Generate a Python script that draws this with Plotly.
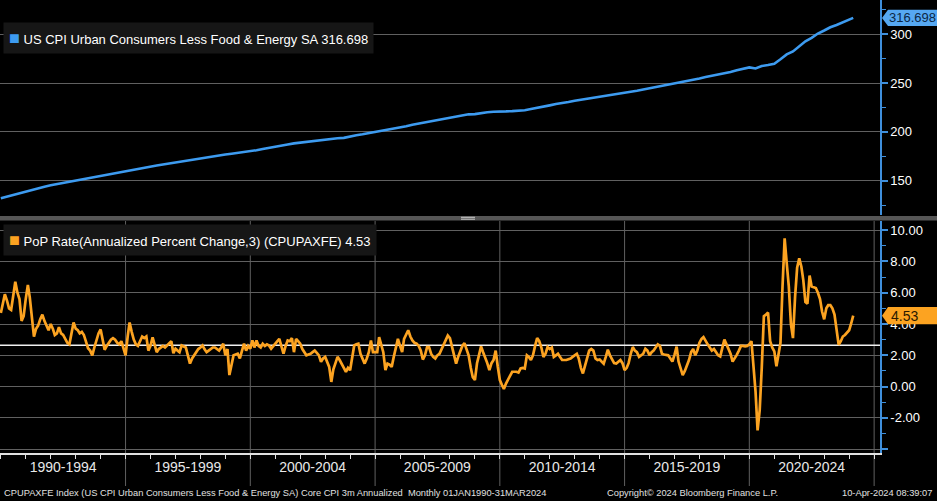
import numpy as np
import pandas as pd
import plotly.graph_objects as go
from plotly.subplots import make_subplots

# ---------------- data ----------------
# Core CPI index (SA), quarterly (Jan/Apr/Jul/Oct) 1990 .. Jan 2024, plus Mar 2024
cpi_values = [
    132.1, 133.8, 135.6, 137.6,
    139.5, 141.0, 142.3, 143.9,
    145.4, 146.6, 147.7, 149.0,
    150.7, 151.9, 152.9, 154.1,
    155.2, 156.3, 157.4, 158.6,
    159.7, 161.1, 162.2, 163.4,
    164.5, 165.6, 166.6, 167.7,
    168.7, 169.6, 170.6, 171.6,
    172.9, 173.8, 174.9, 175.9,
    176.9, 177.7, 178.4, 179.2,
    180.0, 181.3, 182.5, 183.5,
    184.6, 185.9, 187.1, 188.3,
    189.1, 189.9, 190.8, 191.6,
    192.4, 193.0, 193.5, 193.9,
    195.6, 196.6, 197.6, 198.7,
    199.9, 200.8, 201.9, 202.9,
    204.2, 205.8, 207.4, 208.6,
    209.9, 211.3, 212.5, 213.6,
    214.6, 215.8, 217.3, 218.0,
    218.2, 219.3, 220.2, 220.7,
    220.6, 221.0, 221.3, 221.5,
    222.2, 223.4, 224.9, 226.1,
    227.2, 228.6, 229.3, 230.6,
    231.9, 232.9, 233.7, 234.9,
    235.7, 236.9, 237.7, 238.6,
    239.5, 241.0, 242.2, 243.4,
    244.6, 246.1, 247.4, 248.6,
    250.1, 250.9, 251.9, 253.2,
    254.6, 256.2, 257.4, 258.6,
    260.0, 261.4, 263.1, 264.5,
    266.0, 265.0, 267.4, 268.4,
    269.8, 274.3, 279.3, 282.4,
    287.9, 292.7, 296.3, 300.7,
    303.8, 307.1, 309.4, 312.0,
    314.2, 316.698,
]
cpi_dates = list(pd.date_range("1990-01-01", "2024-01-01", freq="QS")) + [pd.Timestamp("2024-03-01")]

# 3m annualized % change, monthly Jan 1990 .. Mar 2024
rate_values = [
    4.7, 5.3, 5.9, 5.5, 5.0, 4.9, 5.8, 6.7, 6.0, 5.6, 4.2, 4.5,        # 1990
    5.6, 6.5, 5.7, 4.3, 3.2, 3.7, 3.9, 4.3, 4.6, 4.2, 3.9, 3.6,        # 1991
    4.0, 3.7, 3.3, 3.4, 3.8, 3.4, 3.3, 3.0, 2.8, 2.7, 3.4, 4.1,        # 1992
    3.7, 3.6, 3.4, 3.5, 3.3, 2.8, 2.45, 2.3, 2.0, 2.5, 3.0, 3.4,       # 1993
    3.65, 2.9, 2.35, 2.6, 2.8, 3.0, 3.1, 3.0, 2.8, 2.7, 2.9, 2.4,      # 1994
    2.0, 3.2, 4.1, 3.5, 3.0, 2.7, 2.6, 2.9, 3.2, 3.1, 3.2, 2.3,        # 1995
    2.6, 3.15, 2.7, 2.2, 2.4, 2.5, 2.6, 2.5, 2.65, 2.8, 2.9, 2.13,     # 1996
    2.42, 2.3, 2.2, 2.63, 2.55, 2.5, 2.0, 1.47, 1.8, 2.0, 2.2, 2.4,    # 1997
    2.5, 2.63, 2.4, 2.2, 2.3, 2.42, 2.5, 2.5, 2.4, 2.3, 2.5, 2.74,     # 1998
    2.0, 2.4, 0.74, 1.4, 2.0, 2.05, 2.1, 1.8, 2.3, 2.74, 2.3, 2.6,     # 1999
    2.42, 2.95, 2.5, 2.95, 2.6, 2.5, 2.74, 2.6, 2.7, 2.63, 2.42, 2.6,  # 2000
    2.74, 2.9, 3.05, 2.63, 2.1, 2.6, 2.95, 2.9, 3.1, 2.2, 3.05, 2.9,   # 2001
    2.74, 2.4, 2.2, 2.0, 2.05, 2.1, 2.2, 2.3, 2.15, 2.0, 1.58, 1.8,    # 2002
    1.9, 1.6, 1.26, 0.3, 1.1, 1.5, 1.9, 1.7, 1.4, 1.2, 0.95, 1.2,      # 2003
    1.05, 1.9, 2.63, 2.7, 2.74, 2.1, 1.8, 1.47, 1.8, 2.2, 2.95, 2.2,   # 2004
    2.2, 2.2, 3.16, 2.6, 2.2, 1.05, 1.47, 1.4, 1.26, 1.9, 2.5, 3.05,   # 2005
    2.6, 2.2, 3.05, 3.3, 3.6, 3.2, 2.95, 2.8, 2.74, 2.6, 2.3, 1.73,    # 2006
    2.0, 2.53, 2.53, 2.1, 1.9, 1.8, 2.0, 2.1, 2.4, 2.63, 2.9, 3.26,    # 2007
    3.1, 2.6, 2.1, 1.47, 1.9, 2.3, 2.6, 2.78, 2.3, 2.0, 1.2, 0.6,      # 2008
    0.42, 1.5, 2.0, 2.57, 2.2, 1.9, 1.5, 1.05, 1.5, 1.7, 2.3, 1.3,     # 2009
    0.42, 0.1, -0.15, 0.2, 0.5, 0.7, 0.95, 0.95, 0.95, 0.9, 1.16, 1.2, # 2010
    1.16, 2.0, 1.9, 1.7, 2.0, 2.6, 3.1, 2.9, 2.5, 1.9, 2.1, 2.53,      # 2011
    2.4, 2.5, 1.9, 2.0, 2.1, 1.9, 1.7, 1.7, 1.7, 1.75, 1.8, 1.9,       # 2012
    2.0, 2.1, 1.8, 1.2, 0.84, 1.3, 1.8, 2.3, 2.4, 2.3, 1.8, 1.7,       # 2013
    1.73, 1.6, 1.47, 1.9, 2.36, 2.0, 1.7, 1.5, 1.47, 1.6, 1.7, 1.5,    # 2014
    1.05, 1.2, 1.5, 2.1, 2.53, 2.3, 2.2, 1.9, 2.0, 2.1, 2.42, 2.3,     # 2015
    2.0, 2.2, 2.3, 2.5, 2.7, 2.6, 2.1, 2.05, 2.0, 2.0, 1.8, 1.6,       # 2016
    2.05, 2.55, 1.6, 1.2, 0.74, 1.0, 1.3, 1.7, 2.2, 2.4, 2.0, 2.3,     # 2017
    2.8, 3.05, 3.16, 2.9, 2.7, 2.5, 2.3, 2.4, 2.2, 2.0, 1.93, 2.5,     # 2018
    3.0, 2.7, 2.46, 2.1, 1.6, 1.8, 2.03, 2.3, 2.6, 2.6, 2.57, 2.6,     # 2019
    2.7, 2.9, 1.5, -0.3, -2.8, -1.5, 1.2, 4.5, 4.6, 4.73, 2.9, 2.5,    # 2020
    2.25, 1.3, 2.0, 2.8, 6.4, 9.47, 7.9, 6.4, 4.0, 3.1, 5.75, 7.6,     # 2021
    8.2, 7.66, 6.8, 5.4, 5.3, 7.1, 6.4, 6.35, 6.3, 6.0, 5.6, 4.8,      # 2022
    4.3, 5.0, 5.2, 5.2, 5.0, 4.6, 3.6, 2.67, 2.9, 3.2, 3.3, 3.45,      # 2023
    3.6, 4.05, 4.53,                                                   # 2024
]
rate_dates = pd.date_range("1990-01-01", periods=len(rate_values), freq="MS")

period_labels = ["1990-1994", "1995-1999", "2000-2004", "2005-2009",
                 "2010-2014", "2015-2019", "2020-2024"]
period_starts = [1990, 1995, 2000, 2005, 2010, 2015, 2020]

top_ticks = [150, 200, 250, 300]
bot_ticks = [-4, -2, 0, 2, 4, 6, 8, 10]

top_label = "US CPI Urban Consumers Less Food & Energy SA 316.698"
bot_label = "PoP Rate(Annualized Percent Change,3) (CPUPAXFE) 4.53"
footer_left = ("CPUPAXFE Index (US CPI Urban Consumers Less Food & Energy SA) Core CPI 3m Annualized  "
               "Monthly 01JAN1990-31MAR2024")
footer_mid = "Copyright\u00a9 2024 Bloomberg Finance L.P."
footer_right = "10-Apr-2024 08:39:07"

# ---------------- style ----------------
BLUE = "#3d9bf0"
BLUE_TAG = "#56a8f2"
ORANGE = "#fca321"
GRID = "#606060"
AXIS_BLUE = "#3f8fdc"
SANS = "Liberation Sans, Arial, sans-serif"

W, H = 937, 501
ML, MR, MT, MB = 0, 57, 0, 48
PH = H - MT - MB
PW = W - ML - MR

def py(px):  # pixel from top of plot area -> paper y
    return 1 - px / PH

def pxx(px):  # pixel from left -> paper x
    return (px - ML) / PW

fig = make_subplots(rows=2, cols=1, shared_xaxes=True)

fig.add_trace(go.Scatter(x=cpi_dates, y=cpi_values, mode="lines",
                         line=dict(color=BLUE, width=2.6), hoverinfo="skip",
                         showlegend=False), row=1, col=1)
fig.add_trace(go.Scatter(x=rate_dates, y=rate_values, mode="lines",
                         line=dict(color=ORANGE, width=2.7), hoverinfo="skip",
                         showlegend=False), row=2, col=1)

xrange = ["1989-12-20", "2025-03-28"]
mid_ticks = [f"{y + 2}-07-01" for y in period_starts]

fig.update_layout(
    width=W, height=H,
    margin=dict(l=ML, r=MR, t=MT, b=MB),
    paper_bgcolor="black", plot_bgcolor="black",
    font=dict(family=SANS, color="white", size=13),
    xaxis=dict(domain=[0, 1], range=xrange, showticklabels=False, showgrid=False,
               zeroline=False, ticks=""),
    yaxis=dict(domain=[py(215), 1], range=[115, 335], side="right",
               tickvals=top_ticks, showgrid=True, gridcolor=GRID, gridwidth=1,
               zeroline=False, showline=True, linecolor=AXIS_BLUE, linewidth=1.5,
               ticks="outside", ticklen=6, tickwidth=2, tickcolor=AXIS_BLUE,
               tickfont=dict(family=SANS, size=13, color="white"),
               minor=dict(tickvals=[125, 175, 225, 275, 325], ticks="outside",
                          ticklen=4, tickwidth=1, tickcolor=AXIS_BLUE, showgrid=False)),
    xaxis2=dict(domain=[0, 1], range=xrange, tickmode="array", tickvals=mid_ticks,
                ticktext=period_labels, ticks="", showgrid=False, zeroline=False,
                showline=True, linecolor="#e0e0e0", linewidth=1.5,
                tickfont=dict(family=SANS, size=14, color="#e8e8e8"),
                minor=dict(dtick="M12", tick0="1990-01-01", ticks="outside", ticklen=4,
                           tickwidth=1, tickcolor="#e0e0e0", showgrid=False)),
    yaxis2=dict(domain=[0, py(221)], range=[-4.24, 10.58], side="right",
                tickvals=bot_ticks,
                ticktext=["" if v == -4 else f"{v:.2f}" for v in bot_ticks],
                showgrid=True, gridcolor=GRID, gridwidth=1, zeroline=False,
                showline=True, linecolor=AXIS_BLUE, linewidth=1.5,
                ticks="outside", ticklen=6, tickwidth=2, tickcolor=AXIS_BLUE,
                tickfont=dict(family=SANS, size=13, color="white"),
                minor=dict(tickvals=[-3, -1, 1, 3, 5, 7, 9], ticks="outside",
                           ticklen=4, tickwidth=1, tickcolor=AXIS_BLUE, showgrid=False)),
)

shapes = []
# vertical 5-year gridlines in the lower panel, extending into the label band
for y in period_starts[1:] + [2025]:
    shapes.append(dict(type="line", xref="x2", yref="paper",
                       x0=f"{y}-01-01", x1=f"{y}-01-01",
                       y0=-(486 - PH) / PH, y1=py(221),
                       line=dict(color=GRID, width=1), layer="below"))
# average line
avg = float(np.mean(rate_values))
shapes.append(dict(type="line", xref="x2 domain", yref="y2", x0=0, x1=1, y0=avg, y1=avg,
                   line=dict(color="#f0f0f0", width=1.3), layer="below"))
# panel separator
shapes.append(dict(type="rect", xref="paper", yref="paper", x0=0, x1=W / PW,
                   y0=py(220.5), y1=py(216), fillcolor="#565656", line=dict(width=0)))
for dy in (217.3, 219.2):
    shapes.append(dict(type="line", xref="paper", yref="paper", x0=pxx(461), x1=pxx(475),
                       y0=py(dy), y1=py(dy), line=dict(color="#c8c8c8", width=1)))

# value tags on the right axis (pointed left edge)
def tag_shape(yref, yv, half, color):
    x_tip, x_in, x_end = pxx(882), pxx(888), W / PW
    return dict(type="path", xref="paper", yref=yref,
                path=(f"M {x_tip},{yv} L {x_in},{yv + half} L {x_end},{yv + half} "
                      f"L {x_end},{yv - half} L {x_in},{yv - half} Z"),
                fillcolor=color, line=dict(width=0), layer="above")

shapes.append(tag_shape("y", cpi_values[-1], 8.2, BLUE_TAG))
shapes.append(tag_shape("y2", rate_values[-1], 0.55, ORANGE))
fig.update_layout(shapes=shapes)

ann = []
ann.append(dict(xref="paper", yref="y", x=pxx(887), y=cpi_values[-1], xanchor="left",
                yanchor="middle", text=f"{cpi_values[-1]:.3f}", showarrow=False,
                font=dict(family=SANS, size=13, color="#0b2746")))
ann.append(dict(xref="paper", yref="y2", x=pxx(889), y=rate_values[-1], xanchor="left",
                yanchor="middle", text=f"{rate_values[-1]:.2f}", showarrow=False,
                font=dict(family=SANS, size=14, color="#2a1a00")))

# legend boxes
sq = "<span style='color:{c};font-size:18px'>\u25a0</span> "
ann.append(dict(xref="paper", yref="paper", x=pxx(3), y=py(38.5), xanchor="left",
                yanchor="middle", showarrow=False, bgcolor="#161616", borderpad=5,
                text=sq.format(c=BLUE) + top_label,
                font=dict(family=SANS, size=13, color="white")))
ann.append(dict(xref="paper", yref="paper", x=pxx(3), y=py(240), xanchor="left",
                yanchor="middle", showarrow=False, bgcolor="#161616", borderpad=5,
                text=sq.format(c=ORANGE) + bot_label,
                font=dict(family=SANS, size=13, color="white")))

# footer
fy = py(493)
fcol = "#e0e0e0"
ann.append(dict(xref="paper", yref="paper", x=pxx(2), y=fy, xanchor="left", yanchor="middle",
                text=footer_left, showarrow=False,
                font=dict(family=SANS, size=9.3, color=fcol)))
ann.append(dict(xref="paper", yref="paper", x=pxx(605), y=fy, xanchor="left", yanchor="middle",
                text=footer_mid, showarrow=False,
                font=dict(family=SANS, size=9.3, color=fcol)))
ann.append(dict(xref="paper", yref="paper", x=pxx(934), y=fy, xanchor="right", yanchor="middle",
                text=footer_right, showarrow=False,
                font=dict(family=SANS, size=9.3, color=fcol)))
fig.update_layout(annotations=ann)

fig.write_html("out.html", config={"displayModeBar": False},
               post_script="document.body.style.margin='0';document.body.style.overflow='hidden';")
